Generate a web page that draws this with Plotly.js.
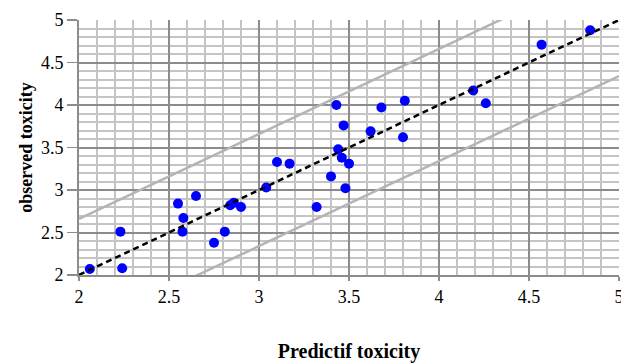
<!DOCTYPE html>
<html>
<head>
<meta charset="utf-8">
<script src="https://cdn.plot.ly/plotly-3.0.1.min.js"></script>
<style>html,body{margin:0;padding:0;background:#fff;}#chart{width:621px;height:363px;}</style>
</head>
<body>
<div id="chart"></div>
<script>
const predicted = [2.06, 2.23, 2.24, 2.55, 2.58, 2.575, 2.65, 2.75, 2.81, 2.84, 2.86, 2.90, 3.04, 3.10, 3.17, 3.32, 3.40, 3.43, 3.44, 3.47, 3.46, 3.48, 3.50, 3.68, 3.62, 3.81, 3.80, 4.19, 4.26, 4.57, 4.84];
const observed  = [2.07, 2.51, 2.08, 2.84, 2.67, 2.51, 2.93, 2.38, 2.51, 2.82, 2.85, 2.80, 3.03, 3.33, 3.31, 2.80, 3.16, 4.00, 3.48, 3.76, 3.38, 3.02, 3.31, 3.97, 3.69, 4.05, 3.62, 4.17, 4.02, 4.71, 4.88];
const fitX = [2, 5];
const fitY = [2, 5];
const upperY = [2.66, 5.66];
const lowerY = [1.34, 4.34];
const tickVals = [2, 2.5, 3, 3.5, 4, 4.5, 5];
const tickText = ['2', '2.5', '3', '3.5', '4', '4.5', '5'];

const serif = "Liberation Serif";
const traces = [
  {x: fitX, y: upperY, mode: 'lines', line: {color: '#b4b4b4', width: 2.5}, hoverinfo: 'skip'},
  {x: fitX, y: lowerY, mode: 'lines', line: {color: '#b4b4b4', width: 2.5}, hoverinfo: 'skip'},
  {x: predicted, y: observed, mode: 'markers', marker: {color: '#0000ff', size: 10}, cliponaxis: false},
  {x: fitX, y: fitY, mode: 'lines', line: {color: '#000000', width: 2.5, dash: '6px,4px'}}
];
function axis(extra) {
  return Object.assign({
    range: [2, 5],
    tickmode: 'array',
    tickvals: tickVals,
    ticktext: tickText,
    showgrid: true,
    gridcolor: '#8c8c8c',
    gridwidth: 2,
    minor: {tickmode: 'linear', dtick: 0.1, showgrid: true, gridcolor: '#c4c4c4', gridwidth: 2, ticks: ''},
    zeroline: false,
    showline: true,
    linecolor: '#8c8c8c',
    linewidth: 2,
    ticks: 'outside',
    tickcolor: '#8c8c8c',
    tickwidth: 1.5,
    ticklabeloverflow: 'allow',
    tickfont: {family: serif, size: 18, color: '#000000'}
  }, extra);
}
const layout = {
  width: 621, height: 363,
  margin: {l: 79, r: 2, t: 20, b: 88},
  font: {family: serif, size: 18, color: '#000000'},
  paper_bgcolor: '#fff', plot_bgcolor: '#fff',
  showlegend: false,
  xaxis: axis({
    ticklen: 4,
    title: {text: '<b>Predictif toxicity</b>', font: {family: serif, size: 20, color: '#000'}, standoff: 38}
  }),
  yaxis: axis({
    ticklen: 10,
    title: {text: '<b>observed toxicity</b>', font: {family: serif, size: 18, color: '#000'}, standoff: 4}
  })
};
Plotly.newPlot('chart', traces, layout, {displayModeBar: false, staticPlot: true});
</script>
</body>
</html>
